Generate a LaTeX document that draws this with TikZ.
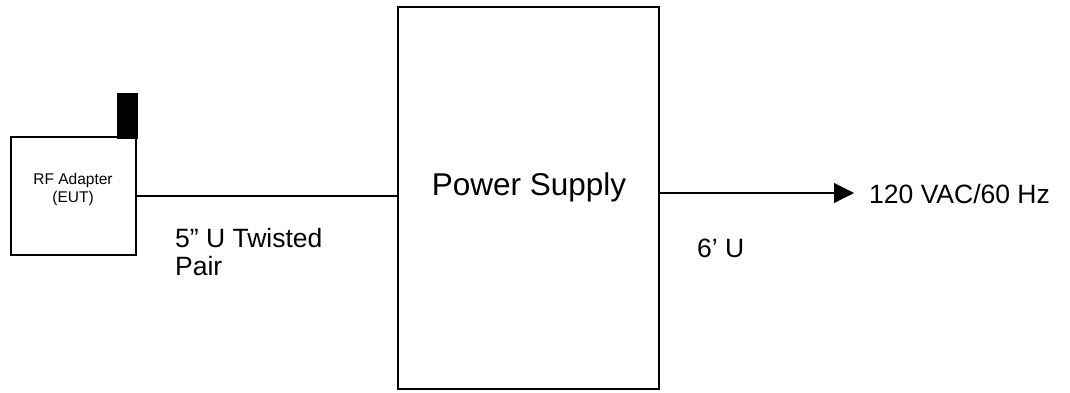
\documentclass[tikz,border=0pt]{standalone}
\usepackage{fontspec}
\setmainfont{Liberation Sans}
\usetikzlibrary{arrows.meta}
\begin{document}
\begin{tikzpicture}[x=1pt,y=-1pt,
  box/.style={draw=black,line width=1.3pt},
  wire/.style={draw=black,line width=1.1pt},
  lbl/.style={anchor=base west,inner sep=0pt,font=\fontsize{26.5}{28}\selectfont}]
\useasboundingbox (0,0) rectangle (1070,392);
% RF adapter box
\node[box,minimum width=125pt,minimum height=118pt,inner sep=0pt] (rf) at (73.5,196) {};
\node[align=center,font=\fontsize{15.5}{18}\selectfont,inner sep=0pt,anchor=base] (rft) at (73,202) {RF Adapter\\(EUT)};
% antenna
\node[fill=black,draw=black,line width=0.8pt,minimum width=20pt,minimum height=45pt,inner sep=0pt] (ant) at (127.5,115.5) {};
% power supply
\node[box,minimum width=261pt,minimum height=382pt,inner sep=0pt] (ps) at (528.5,198) {};
\node[font=\fontsize{31.5}{34}\selectfont,inner sep=0pt,anchor=base] (pst) at (529,195) {Power Supply};
% connectors
\draw[wire] (rf.east |- 0,196) -- (ps.west |- 0,196);
\coordinate (out) at (854,193);
\draw[wire,-{Triangle[length=20pt,width=20pt]}] (ps.east |- out) -- (out);
% labels
\node[lbl] (l1) at (869,203) {120 VAC/60 Hz};
\node[lbl] (l2) at (175,247) {5” U Twisted};
\node[lbl] (l3) at (175,275) {Pair};
\node[lbl] (l4) at (697,257) {6’ U};
\end{tikzpicture}
\end{document}
